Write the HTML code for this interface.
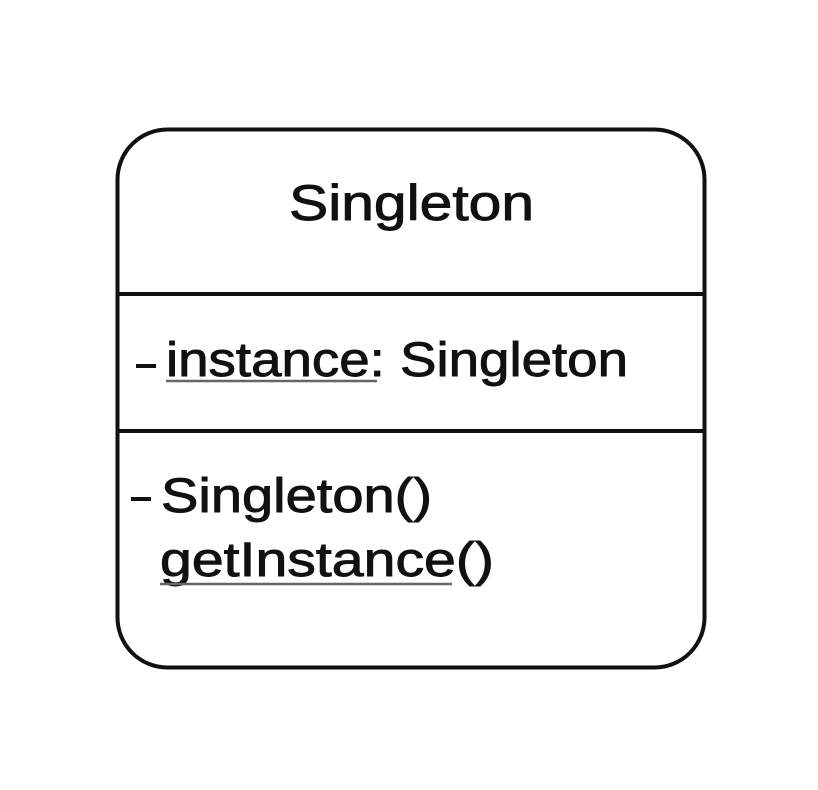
<!DOCTYPE html>
<html><head><style>html,body{margin:0;padding:0;background:#fff;width:818px;height:790px;overflow:hidden}</style></head>
<body>
<svg width="818" height="790" xmlns="http://www.w3.org/2000/svg" font-family="Liberation Sans, sans-serif" fill="#111">
<rect x="117.5" y="129.5" width="587" height="538" rx="50" ry="50" fill="#fff" stroke="#111" stroke-width="4"/>
<line x1="118" y1="294" x2="704" y2="294" stroke="#111" stroke-width="4"/>
<line x1="118" y1="431" x2="704" y2="431" stroke="#111" stroke-width="4"/>
<g stroke="#111" stroke-width="0.9">
<text x="289" y="220" font-size="50" textLength="245" lengthAdjust="spacingAndGlyphs">Singleton</text>
<text x="166" y="376" font-size="48" textLength="462" lengthAdjust="spacingAndGlyphs">instance: Singleton</text>
<text x="161" y="512" font-size="48" textLength="271" lengthAdjust="spacingAndGlyphs">Singleton()</text>
<text x="160" y="576" font-size="48" textLength="334" lengthAdjust="spacingAndGlyphs">getInstance()</text>
</g>
<rect x="136" y="364" width="20" height="4" fill="#111"/>
<rect x="131" y="497" width="20" height="4" fill="#111"/>
<line x1="166" y1="381" x2="377" y2="381" stroke="#666" stroke-width="2.5"/>
<line x1="160" y1="584" x2="452" y2="584" stroke="#666" stroke-width="2.5"/>
</svg>
</body></html>
